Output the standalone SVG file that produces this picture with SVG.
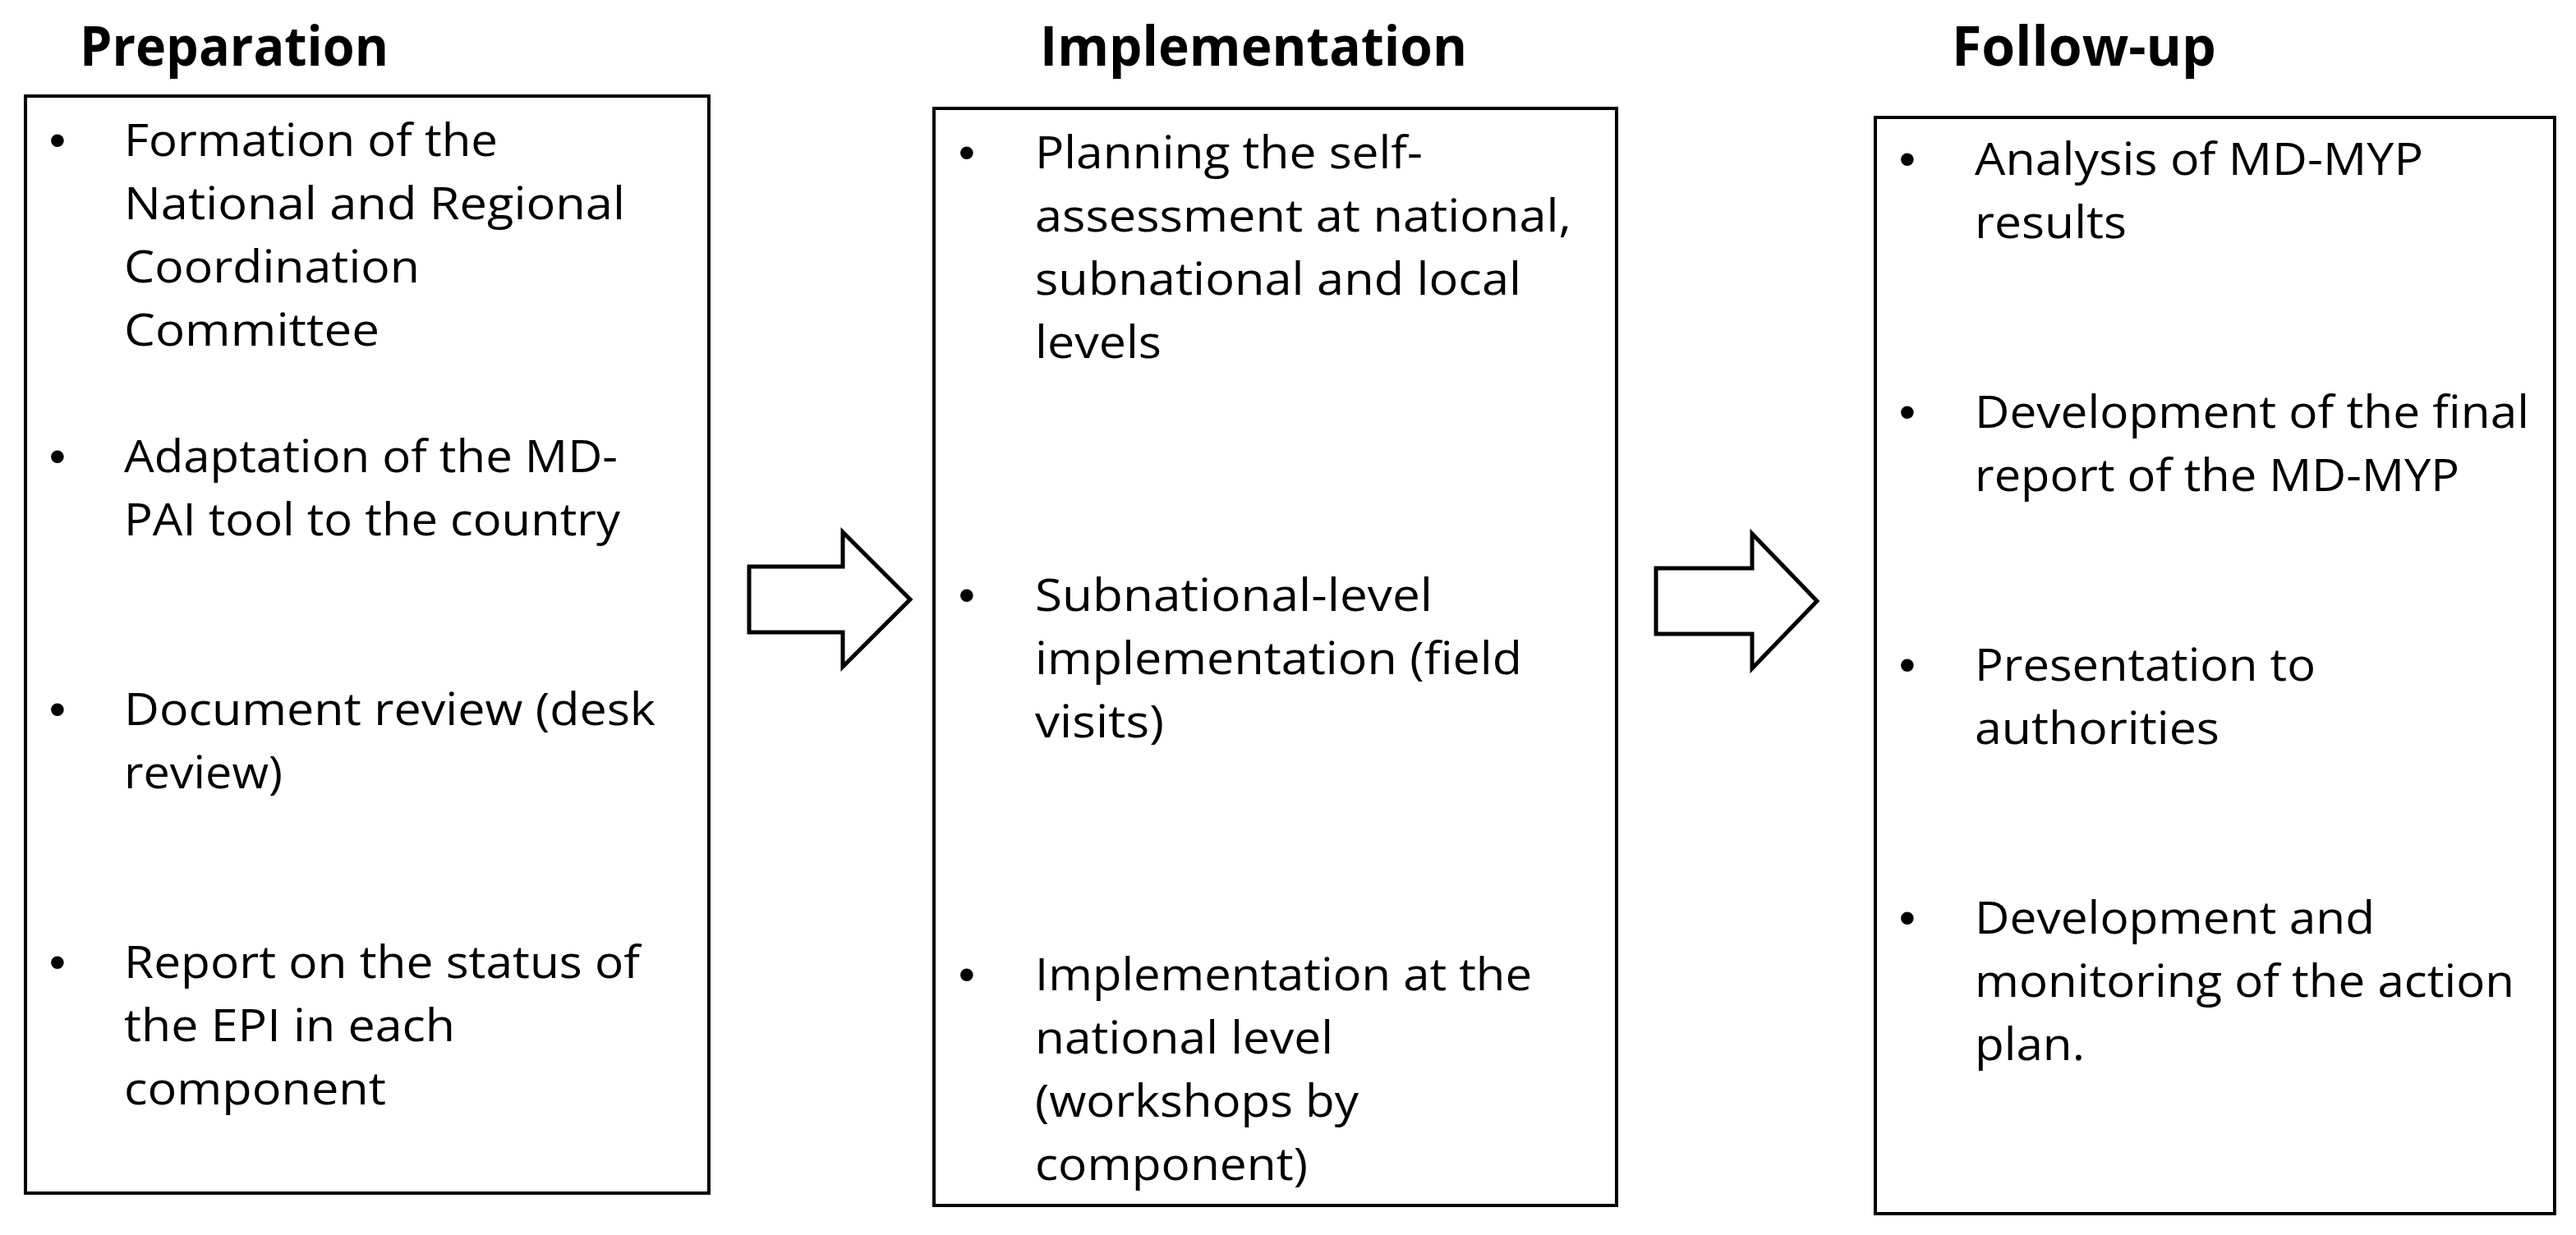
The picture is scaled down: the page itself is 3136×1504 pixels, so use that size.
<svg xmlns="http://www.w3.org/2000/svg" width="3136" height="1504" viewBox="0 0 3136 1504">
<style>
.hdr{font-family:"Open Sans","Liberation Sans",sans-serif;font-weight:700;font-size:66px;fill:#000}
.t{font-family:"Open Sans","Liberation Sans",sans-serif;font-size:54px;fill:#000}
.b{font-family:"Liberation Sans",Arial,sans-serif;font-size:58px;fill:#000;text-anchor:middle}
.box{fill:#fff;stroke:#000;stroke-width:4}
.arr{fill:#fff;stroke:#000;stroke-width:5;stroke-linejoin:miter}
</style>
<rect width="3136" height="1504" fill="#fff"/>
<g id="connectors">
<polygon class="arr" points="912,690 1026,690 1026,648 1108,730 1026,812 1026,770 912,770"/>
<polygon class="arr" points="2016,692 2133,692 2133,650 2212,732 2133,814 2133,772 2016,772"/>
</g>
<g id="preparation">
<text class="hdr" x="97" y="80" textLength="376" lengthAdjust="spacingAndGlyphs">Preparation</text>
<rect class="box" x="31" y="117" width="832" height="1336"/>
<text class="b" x="70" y="190">•</text>
<text class="t" x="151" y="190" textLength="455" lengthAdjust="spacingAndGlyphs">Formation of the</text>
<text class="t" x="151" y="267" textLength="610" lengthAdjust="spacingAndGlyphs">National and Regional</text>
<text class="t" x="151" y="344" textLength="360" lengthAdjust="spacingAndGlyphs">Coordination</text>
<text class="t" x="151" y="421" textLength="311" lengthAdjust="spacingAndGlyphs">Committee</text>
<text class="b" x="70" y="575">•</text>
<text class="t" x="151" y="575" textLength="601" lengthAdjust="spacingAndGlyphs">Adaptation of the MD-</text>
<text class="t" x="151" y="652" textLength="604" lengthAdjust="spacingAndGlyphs">PAI tool to the country</text>
<text class="b" x="70" y="883">•</text>
<text class="t" x="151" y="883" textLength="647" lengthAdjust="spacingAndGlyphs">Document review (desk</text>
<text class="t" x="151" y="960" textLength="193" lengthAdjust="spacingAndGlyphs">review)</text>
<text class="b" x="70" y="1191">•</text>
<text class="t" x="151" y="1191" textLength="628" lengthAdjust="spacingAndGlyphs">Report on the status of</text>
<text class="t" x="151" y="1268" textLength="403" lengthAdjust="spacingAndGlyphs">the EPI in each</text>
<text class="t" x="151" y="1345" textLength="319" lengthAdjust="spacingAndGlyphs">component</text>
</g>
<g id="implementation">
<text class="hdr" x="1266" y="80" textLength="520" lengthAdjust="spacingAndGlyphs">Implementation</text>
<rect class="box" x="1137" y="132" width="831" height="1336"/>
<text class="b" x="1177" y="205">•</text>
<text class="t" x="1260" y="205" textLength="472" lengthAdjust="spacingAndGlyphs">Planning the self-</text>
<text class="t" x="1260" y="282" textLength="653" lengthAdjust="spacingAndGlyphs">assessment at national,</text>
<text class="t" x="1260" y="359" textLength="592" lengthAdjust="spacingAndGlyphs">subnational and local</text>
<text class="t" x="1260" y="436" textLength="154" lengthAdjust="spacingAndGlyphs">levels</text>
<text class="b" x="1177" y="744">•</text>
<text class="t" x="1260" y="744" textLength="484" lengthAdjust="spacingAndGlyphs">Subnational-level</text>
<text class="t" x="1260" y="821" textLength="593" lengthAdjust="spacingAndGlyphs">implementation (field</text>
<text class="t" x="1260" y="898" textLength="157" lengthAdjust="spacingAndGlyphs">visits)</text>
<text class="b" x="1177" y="1206">•</text>
<text class="t" x="1260" y="1206" textLength="605" lengthAdjust="spacingAndGlyphs">Implementation at the</text>
<text class="t" x="1260" y="1283" textLength="363" lengthAdjust="spacingAndGlyphs">national level</text>
<text class="t" x="1260" y="1360" textLength="394" lengthAdjust="spacingAndGlyphs">(workshops by</text>
<text class="t" x="1260" y="1437" textLength="332" lengthAdjust="spacingAndGlyphs">component)</text>
</g>
<g id="follow-up">
<text class="hdr" x="2376" y="80" textLength="322" lengthAdjust="spacingAndGlyphs">Follow-up</text>
<rect class="box" x="2283" y="143" width="827" height="1335"/>
<text class="b" x="2322" y="213">•</text>
<text class="t" x="2404" y="213" textLength="546" lengthAdjust="spacingAndGlyphs">Analysis of MD-MYP</text>
<text class="t" x="2404" y="290" textLength="185" lengthAdjust="spacingAndGlyphs">results</text>
<text class="b" x="2322" y="521">•</text>
<text class="t" x="2404" y="521" textLength="675" lengthAdjust="spacingAndGlyphs">Development of the final</text>
<text class="t" x="2404" y="598" textLength="590" lengthAdjust="spacingAndGlyphs">report of the MD-MYP</text>
<text class="b" x="2322" y="829">•</text>
<text class="t" x="2404" y="829" textLength="415" lengthAdjust="spacingAndGlyphs">Presentation to</text>
<text class="t" x="2404" y="906" textLength="298" lengthAdjust="spacingAndGlyphs">authorities</text>
<text class="b" x="2322" y="1137">•</text>
<text class="t" x="2404" y="1137" textLength="487" lengthAdjust="spacingAndGlyphs">Development and</text>
<text class="t" x="2404" y="1214" textLength="657" lengthAdjust="spacingAndGlyphs">monitoring of the action</text>
<text class="t" x="2404" y="1291" textLength="134" lengthAdjust="spacingAndGlyphs">plan.</text>
</g>
</svg>
